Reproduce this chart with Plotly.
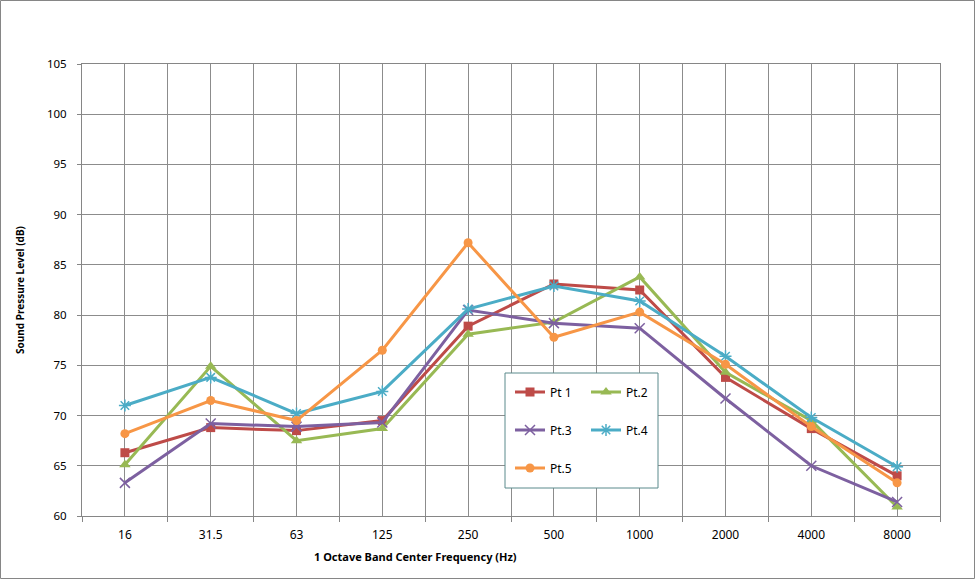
import plotly.graph_objects as go

categories = ["16", "31.5", "63", "125", "250", "500", "1000", "2000", "4000", "8000"]
pt1 = [66.3, 68.8, 68.5, 69.5, 78.9, 83.1, 82.5, 73.8, 68.7, 64.0]
pt2 = [65.1, 74.9, 67.5, 68.7, 78.1, 79.3, 83.8, 74.3, 69.5, 60.9]
pt3 = [63.3, 69.2, 68.9, 69.3, 80.5, 79.2, 78.7, 71.7, 65.0, 61.4]
pt4 = [71.0, 73.8, 70.2, 72.4, 80.6, 82.9, 81.4, 75.9, 69.8, 64.9]
pt5 = [68.2, 71.5, 69.5, 76.5, 87.2, 77.8, 80.3, 75.1, 68.9, 63.3]
series_names = ["Pt 1", "Pt.2", "Pt.3", "Pt.4", "Pt.5"]
y_ticks = [60, 65, 70, 75, 80, 85, 90, 95, 100, 105]

x = list(range(len(categories)))
boundaries = [i - 0.5 for i in range(len(categories) + 1)]

FONT = "Noto Sans"
W, H = 975, 579
L, R, T, B = 82, 35, 64, 63
pw, ph = W - L - R, H - T - B


def px(xp):
    return (xp - L) / pw


def py(yp):
    return (H - B - yp) / ph


styles = [
    dict(color="#BE4B48", symbol="square", size=9, legend="legend"),
    dict(color="#98B954", symbol="triangle-up", size=10, legend="legend"),
    dict(color="#7D60A0", symbol="x-thin-open", size=10, legend="legend2"),
    dict(color="#4BACC6", symbol="asterisk-open", size=10, legend="legend2"),
    dict(color="#F79646", symbol="circle", size=9, legend="legend3"),
]

fig = go.Figure()
for name, vals, st in zip(series_names, [pt1, pt2, pt3, pt4, pt5], styles):
    marker = dict(symbol=st["symbol"], size=st["size"], color=st["color"])
    if "open" in st["symbol"]:
        marker["line"] = dict(color=st["color"], width=1.5)
    fig.add_trace(go.Scatter(
        x=x, y=vals, name=name, mode="lines+markers",
        line=dict(color=st["color"], width=3),
        marker=marker, legend=st["legend"],
    ))

legend_common = dict(
    orientation="h", xanchor="left", yanchor="middle",
    bgcolor="rgba(0,0,0,0)", borderwidth=0,
    font=dict(family=FONT, size=12, color="#000000"),
    entrywidth=31, entrywidthmode="pixels", itemwidth=30,
)

fig.update_layout(
    width=W, height=H,
    margin=dict(l=L, r=R, t=T, b=B),
    paper_bgcolor="white", plot_bgcolor="white",
    font=dict(family=FONT, size=11, color="#000000"),
    legend=dict(x=px(510), y=py(392), **legend_common),
    legend2=dict(x=px(510), y=py(430), **legend_common),
    legend3=dict(x=px(510), y=py(468), **legend_common),
    xaxis=dict(
        range=[-0.5, len(categories) - 0.5],
        tickvals=x, ticktext=categories, ticks="",
        showgrid=True, gridcolor="#8C8C8C", gridwidth=1,
        minor=dict(tickvals=boundaries, showgrid=True, gridcolor="#8C8C8C",
                   ticks="outside", ticklen=5, tickcolor="#868686"),
        showline=True, linecolor="#868686", linewidth=1, mirror=True,
        tickfont=dict(family=FONT, size=12, color="#000000"),
        ticklabelstandoff=8,
        zeroline=False,
    ),
    yaxis=dict(
        range=[60, 105], tickvals=y_ticks,
        showgrid=True, gridcolor="#8C8C8C", gridwidth=1,
        ticks="outside", ticklen=4, tickcolor="#868686",
        showline=True, linecolor="#868686", linewidth=1, mirror=True,
        tickfont=dict(family=FONT, size=11.5, color="#000000"),
        ticklabelstandoff=8,
        title=dict(text="<b>Sound Pressure Level (dB)</b>",
                   font=dict(family=FONT, size=10, color="#000000"), standoff=20),
        zeroline=False,
    ),
    shapes=[
        dict(type="rect", xref="paper", yref="paper",
             x0=px(505), x1=px(658), y0=py(488), y1=py(373),
             line=dict(color="#5A8A8C", width=1), fillcolor="white", layer="above"),
        dict(type="rect", xref="paper", yref="paper",
             x0=px(0.5), x1=px(974.5), y0=py(578.5), y1=py(0.5),
             line=dict(color="#868686", width=1), fillcolor="rgba(0,0,0,0)", layer="above"),
    ],
    annotations=[
        dict(text="<b>1 Octave Band Center Frequency (Hz)</b>", xref="paper", yref="paper",
             x=px(415), y=py(556), xanchor="center", yanchor="middle", showarrow=False,
             font=dict(family=FONT, size=11, color="#000000")),
    ],
)

fig.write_html("out.html", config={"displayModeBar": False},
               post_script="document.body.style.margin='0';")
